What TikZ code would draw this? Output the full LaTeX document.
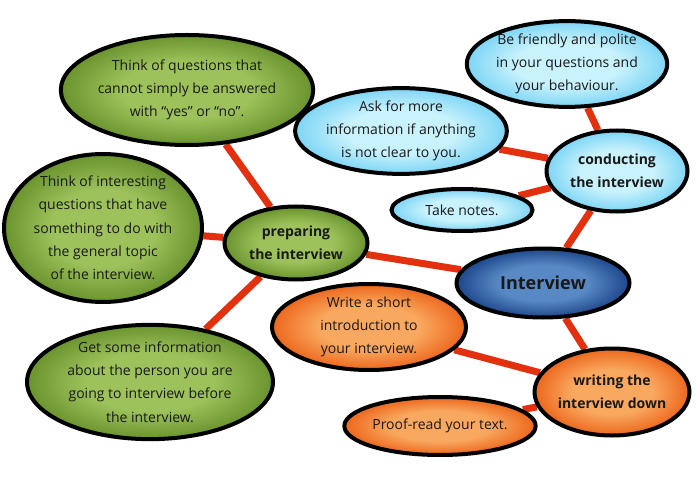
\documentclass[tikz,border=0pt]{standalone}
\usepackage{fontspec}
\setmainfont{Open Sans}
\usepackage{xcolor}
\usepackage{tikz}
\usetikzlibrary{shapes,arrows,backgrounds}

\definecolor{leafgreen}{HTML}{9DC25B}
\definecolor{leafgreendark}{HTML}{6A932E}
\definecolor{skyblue}{HTML}{C8F2FC}
\definecolor{skybluedark}{HTML}{7DD5F5}
\definecolor{tangerine}{HTML}{F9A85F}
\definecolor{tangerinedark}{HTML}{EC671C}
\definecolor{royal}{HTML}{5889C4}
\definecolor{royaldark}{HTML}{1D478C}
\definecolor{linkred}{HTML}{E3300F}
\colorlet{glowin}{white}
\colorlet{glowout}{gray}
\pgfdeclareradialshading[glowin,glowout]{glow}{\pgfpoint{0bp}{0bp}}{color(0bp)=(glowin); color(13bp)=(glowin); color(25bp)=(glowout); color(50bp)=(glowout)}

\begin{document}
\begin{tikzpicture}[
    x=1pt, y=-1pt,
    glow colors/.code 2 args={\colorlet{glowin}{#1}\colorlet{glowout}{#2}},
    bubble/.style={ellipse, draw=black, line width=4pt, inner sep=0pt, align=center,
        shading=glow, text=black!90, font=\fontsize{14}{23.3}\selectfont},
    green/.style={bubble, glow colors={leafgreen}{leafgreendark}},
    blue/.style={bubble, glow colors={skyblue}{skybluedark}},
    orange/.style={bubble, glow colors={tangerine}{tangerinedark}},
    topic/.style={font=\fontsize{14}{23.3}\selectfont\bfseries},
    link/.style={line width=7pt, draw=linkred}
]
    \useasboundingbox (0,0) rectangle (700,478);

    \node [bubble, glow colors={royal}{royaldark}, minimum width=173pt, minimum height=69pt,
        font=\fontsize{18}{23}\selectfont\bfseries] (interview) at (543,283) {Interview};

    \node [green, topic, minimum width=143pt, minimum height=73pt] (prep) at (296,243) {preparing\\the interview};
    \node [green, minimum width=246pt, minimum height=110pt] (noyes) at (187,90) {Think of questions that\\cannot simply be answered\\with “yes” or “no”.};
    \node [green, minimum width=198pt, minimum height=148pt] (topicq) at (103,228) {Think of interesting\\questions that have\\something to do with\\the general topic\\of the interview.};
    \node [green, minimum width=246pt, minimum height=113pt] (person) at (150,382) {Get some information\\about the person you are\\going to interview before\\the interview.};

    \node [blue, topic, minimum width=141pt, minimum height=81pt] (conduct) at (617,171) {conducting\\the interview};
    \node [blue, minimum width=195pt, minimum height=84pt] (polite) at (567,64) {Be friendly and polite\\in your questions and\\your behaviour.};
    \node [blue, minimum width=194pt, minimum height=83pt] (ask) at (401,131) {Ask for more\\information if anything\\is not clear to you.};
    \node [blue, minimum width=141pt, minimum height=42pt] (notes) at (462,210) {Take notes.};

    \node [orange, topic, minimum width=155pt, minimum height=87pt] (writing) at (612,392) {writing the\\interview down};
    \node [orange, minimum width=194pt, minimum height=86pt] (intro) at (369,327) {Write a short\\introduction to\\your interview.};
    \node [orange, minimum width=151pt, minimum height=58pt] (proof) at (440,426) {Proof-read your text.};

    \begin{scope}[on background layer]
        \draw [link] (prep) -- (noyes);
        \draw [link] (prep) -- (topicq);
        \draw [link] (prep) -- (person);
        \draw [link] (prep) -- (interview);
        \draw [link] (interview) -- (conduct);
        \draw [link] (interview) -- (writing);
        \draw [link] (conduct) -- (polite);
        \draw [link] (conduct) -- (ask);
        \draw [link] (conduct) -- (notes);
        \draw [link] (writing) -- (intro);
        \draw [link] (writing) -- (proof);
    \end{scope}
\end{tikzpicture}
\end{document}
